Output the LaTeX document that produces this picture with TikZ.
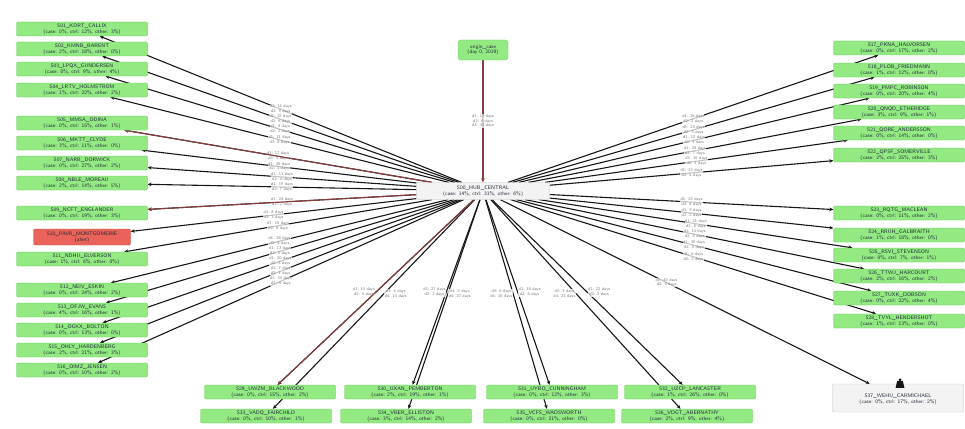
\documentclass[tikz,border=0pt]{standalone}
\usepackage{tikz}
\usetikzlibrary{positioning, arrows.meta, calc, backgrounds}
\definecolor{cLeaf}    {HTML}{93EA83}
\definecolor{cLeafLine}{HTML}{62C852}
\definecolor{cAlert}   {HTML}{E9635B}
\definecolor{cHub}     {HTML}{F3F3F3}
\definecolor{cText}    {HTML}{1F2937}
\definecolor{cMuted}   {HTML}{7A7A7A}
\definecolor{cLink}    {HTML}{161616}
\definecolor{cLinkRed} {HTML}{8A3B3B}
\tikzset{
  leafbox/.style={draw=cLeafLine, fill=cLeaf, rounded corners=1.2pt, line width=0.3pt,
    minimum width=131pt, minimum height=14pt, inner sep=0.8pt, align=center,
    font=\sffamily\fontsize{5.2}{5.8}\selectfont, text=cText},
  alertbox/.style={leafbox, draw=cAlert!80!black, fill=cAlert, minimum width=97pt, minimum height=16pt},
  hubbox/.style={leafbox, draw=cMuted!50, fill=cHub, minimum width=133pt, minimum height=17pt},
  topbox/.style={leafbox, rounded corners=3pt, minimum width=50pt, minimum height=20pt},
  greybox/.style={leafbox, draw=cMuted!50, fill=cHub, minimum height=28pt},
  link/.style={draw=cLink, line width=1.1pt, -{Stealth[length=4pt,width=3.5pt]}},
  linkred/.style={link, draw=cLinkRed},
  elabel/.style={font=\sffamily\fontsize{4.2}{4.6}\selectfont, text=cMuted, align=center,
    fill=white, fill opacity=0.75, text opacity=1, inner sep=0.4pt},
}
\newcommand{\statline}[3]{(case: #1\%, ctrl: #2\%, other: #3\%)}

\begin{document}
\begin{tikzpicture}[x=1pt, y=-1pt]
  \useasboundingbox (0,0) rectangle (965,428);
  % hub and top node
  \node[hubbox] (hub) at (483,191) {S00\_HUB\_CENTRAL\\\statline{14}{31}{6}};
  \node[topbox] (top) at (483,50) {origin\_case\\(day 0, 2019)};
  % left column
  \foreach \i/\y/\nm/\a/\b/\c in {
      1/29/S01\_KDRT\_CALLIX/0/12/3, 2/49/S02\_KMNB\_BARENT/2/18/0,
      3/69/S03\_LPQA\_GUNDERSEN/0/9/4, 4/90/S04\_LRTV\_HOLMSTROM/1/22/2,
      5/123/S05\_MMSA\_ODINA/0/15/1, 6/143/S06\_MKTT\_CLYDE/3/11/0,
      7/163/S07\_NARB\_DORWICK/0/27/2, 8/183/S08\_NBLE\_MOREAU/2/14/5,
      9/213/S09\_NCFT\_ENGLANDER/0/19/3, 11/259/S11\_NDHU\_ELVERSON/1/8/0,
      12/290/S12\_NEIV\_ESKIN/0/24/2, 13/310/S13\_OFJW\_EVANS/4/16/1,
      14/330/S14\_OGKX\_BOLTON/0/13/0, 15/350/S15\_OHLY\_HARDENBERG/2/21/3,
      16/370/S16\_OIMZ\_JENSEN/0/10/2}{
    \node[leafbox] (l\i) at (82,\y) {\nm\\\statline{\a}{\b}{\c}};
  }
  \node[alertbox] (l10) at (82,237) {S10\_PAVR\_MONTGOMERIE\\(alert)};
  % right column
  \foreach \i/\y/\nm/\a/\b/\c in {
      1/48/S17\_PKNA\_HALVORSEN/0/17/2, 2/70/S18\_PLOB\_FRIEDMANN/1/12/0,
      3/91/S19\_PMPC\_ROBINSON/0/20/4, 4/112/S20\_QNQD\_ETHERIDGE/3/9/1,
      5/133/S21\_QORE\_ANDERSSON/0/14/0, 6/155/S22\_QPSF\_SOMERVILLE/2/25/3,
      7/213/S23\_RQTG\_MACLEAN/0/11/2, 8/235/S24\_RRUH\_GALBRAITH/1/18/0,
      9/255/S25\_RSVI\_STEVENSON/0/7/1, 10/276/S26\_TTWJ\_HARCOURT/2/16/2,
      11/298/S27\_TUXK\_DOBSON/0/22/4, 12/321/S28\_TVYL\_HENDERSHOT/1/13/0}{
    \node[leafbox] (r\i) at (899,\y) {\nm\\\statline{\a}{\b}{\c}};
  }
  % bottom rows
  \foreach \i/\x/\nm/\a/\b/\c in {
      1/270/S29\_UWZM\_BLACKWOOD/0/15/2, 2/410/S30\_UXAN\_PEMBERTON/2/19/1,
      3/552/S31\_UYBO\_CUNNINGHAM/0/12/3, 4/690/S32\_UZCP\_LANCASTER/1/26/0}{
    \node[leafbox] (b\i) at (\x,392) {\nm\\\statline{\a}{\b}{\c}};
  }
  \foreach \i/\x/\nm/\a/\b/\c in {
      1/266/S33\_VADQ\_FAIRCHILD/0/10/1, 2/406/S34\_VBER\_ELLISTON/3/14/2,
      3/549/S35\_VCFS\_WADSWORTH/0/21/0, 4/687/S36\_VDGT\_ABERNATHY/2/9/4}{
    \node[leafbox] (c\i) at (\x,416) {\nm\\\statline{\a}{\b}{\c}};
  }
  % grey node bottom right
  \node[greybox] (gry) at (898,398) {\\S37\_WEHU\_CARMICHAEL\\\statline{0}{17}{2}};
  \fill[cLink] ($(gry.north)+(2,-4)$) circle (1.6);
  \fill[cLink] ($(gry.north)+(-0.8,-3)$) -- ++(-1.6,7) -- ++(8.8,0) -- ++(-1.6,-7) -- cycle;
  % links
  \begin{scope}[on background layer]
    \draw[linkred] (top) -- node[elabel]{d1: 12 days\\d2: 4 days\\d3: 31 days} (hub);
    \foreach \i/\d/\e in {1/14/3, 2/22/6, 3/9/2, 4/31/8, 5/17/5, 6/26/1, 7/11/4, 8/19/7,
        9/24/2, 10/8/3, 11/15/6, 12/28/9, 13/13/2, 14/20/5, 15/7/1, 16/33/4}{
      \draw[link] (hub) -- node[elabel]{d1: \d{} days\\d2: \e{} days} (l\i);
    }
    \draw[linkred] (hub) -- (l5);
    \draw[linkred] (hub) -- (l9);
    \foreach \i/\d/\e in {1/16/2, 2/23/5, 3/10/3, 4/29/7, 5/18/1, 6/12/4, 7/25/6, 8/9/2,
        9/21/8, 10/14/3, 11/30/5, 12/6/2}{
      \draw[link] (hub) -- node[elabel]{d1: \d{} days\\d2: \e{} days} (r\i);
    }
    \foreach \i/\d/\e/\ab/\ac in {1/13/4/east/west, 2/27/2/east/west, 3/18/6/west/east, 4/22/3/west/east}{
      \draw[link] (hub) -- node[elabel, pos=0.5, anchor=\ab]{d1: \d{} days\\d2: \e{} days} (b\i);
      \draw[link] (hub) -- node[elabel, pos=0.45, anchor=\ac]{d3: \e{} days\\d4: \d{} days} (c\i);
    }
    \draw[linkred] (hub) -- (b1);
    \draw[link] (hub) -- node[elabel, pos=0.45]{d1: 40 days\\d2: 9 days} (gry);
  \end{scope}
\end{tikzpicture}
\end{document}
